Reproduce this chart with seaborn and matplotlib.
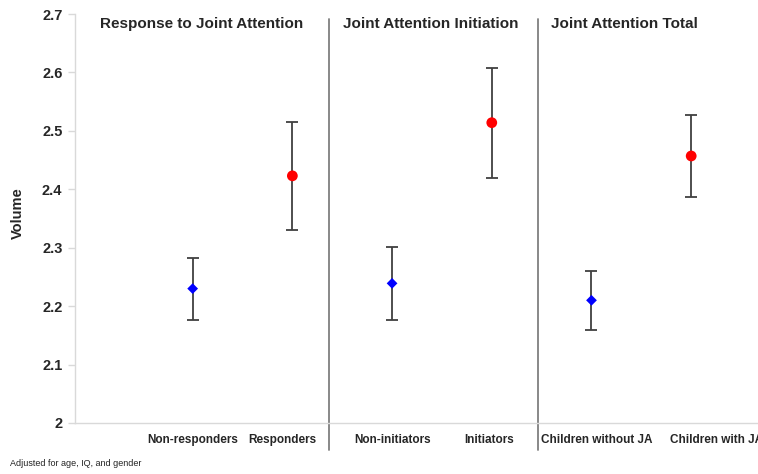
import numpy as np
import pandas as pd
import matplotlib.pyplot as plt
import seaborn as sns

# adjusted volume means with 95% CI
groups = ["Non-responders", "Responders", "Non-initiators", "Initiators",
          "Children without JA", "Children with JA"]
status = ["no", "yes", "no", "yes", "no", "yes"]
means = [2.230, 2.423, 2.239, 2.514, 2.210, 2.457]
ci_low = [2.176, 2.330, 2.176, 2.420, 2.159, 2.387]
ci_high = [2.283, 2.515, 2.301, 2.608, 2.260, 2.527]

panel_titles = ["Response to Joint Attention", "Joint Attention Initiation",
                "Joint Attention Total"]
y_ticks = [2, 2.1, 2.2, 2.3, 2.4, 2.5, 2.6, 2.7]
y_tick_labels = ["2", "2.1", "2.2", "2.3", "2.4", "2.5", "2.6", "2.7"]
footnote = "Adjusted for age, IQ, and gender"

df = pd.DataFrame({"group": groups, "status": status, "mean": means,
                   "low": ci_low, "high": ci_high})
df["pos"] = np.arange(len(df))

sns.set_style("white")
plt.rcParams["font.family"] = ["Liberation Sans", "DejaVu Sans"]

fig = plt.figure(figsize=(7.58, 4.74), dpi=100)
ax = fig.add_axes([75 / 758, 1 - 423 / 474, 683 / 758, 409 / 474])

# error bars first, markers on top
ax.errorbar(df["pos"], df["mean"],
            yerr=[df["mean"] - df["low"], df["high"] - df["mean"]],
            fmt="none", ecolor="#404040", elinewidth=1.3, capsize=4,
            capthick=1.3, zorder=2)
sns.scatterplot(data=df, x="pos", y="mean", hue="status", style="status",
                palette={"no": "#0000ff", "yes": "#ff0000"},
                markers={"no": "D", "yes": "o"},
                size="status", sizes={"no": 30, "yes": 60},
                edgecolor="none", legend=False, zorder=3, ax=ax)

ax.set_xlim(-1.18, 5.67)
ax.set_ylim(2.0, 2.7)
ax.set_yticks(y_ticks)
ax.set_yticklabels(y_tick_labels, fontsize=10.5, fontweight="bold")

label_shift = [0, -0.1, 0, -0.03, 0.05, 0.25]
ax.set_xticks(df["pos"] + np.array(label_shift))
ax.set_xticklabels(df["group"], fontsize=8.5, fontweight="bold")
ax.tick_params(axis="x", length=0, pad=8)
ax.tick_params(axis="y", length=5, color="#d9d9d9", width=1, pad=4, left=True)

for side in ["top", "right"]:
    ax.spines[side].set_visible(False)
for side in ["left", "bottom"]:
    ax.spines[side].set_color("#d9d9d9")
    ax.spines[side].set_linewidth(1)

ax.set_xlabel("")
ax.set_ylabel("Volume", fontsize=10.5, fontweight="bold")
ax.yaxis.set_label_coords(-50 / 683, 0.513)

# panel separators
for xs in [1.364, 3.46]:
    ax.plot([xs, xs], [1.953, 2.691], color="#7f7f7f", lw=1.3,
            clip_on=False, zorder=1)

for title, xt in zip(panel_titles, [-0.93, 1.505, 3.59]):
    ax.text(xt, 0.976, title, transform=ax.get_xaxis_transform(),
            ha="left", va="center", fontsize=11, fontweight="bold")

fig.text(10 / 758, 1 - 463 / 474, footnote, fontsize=6.5, va="center",
         ha="left", color="#222222")

fig.savefig("out.png", dpi=100)
